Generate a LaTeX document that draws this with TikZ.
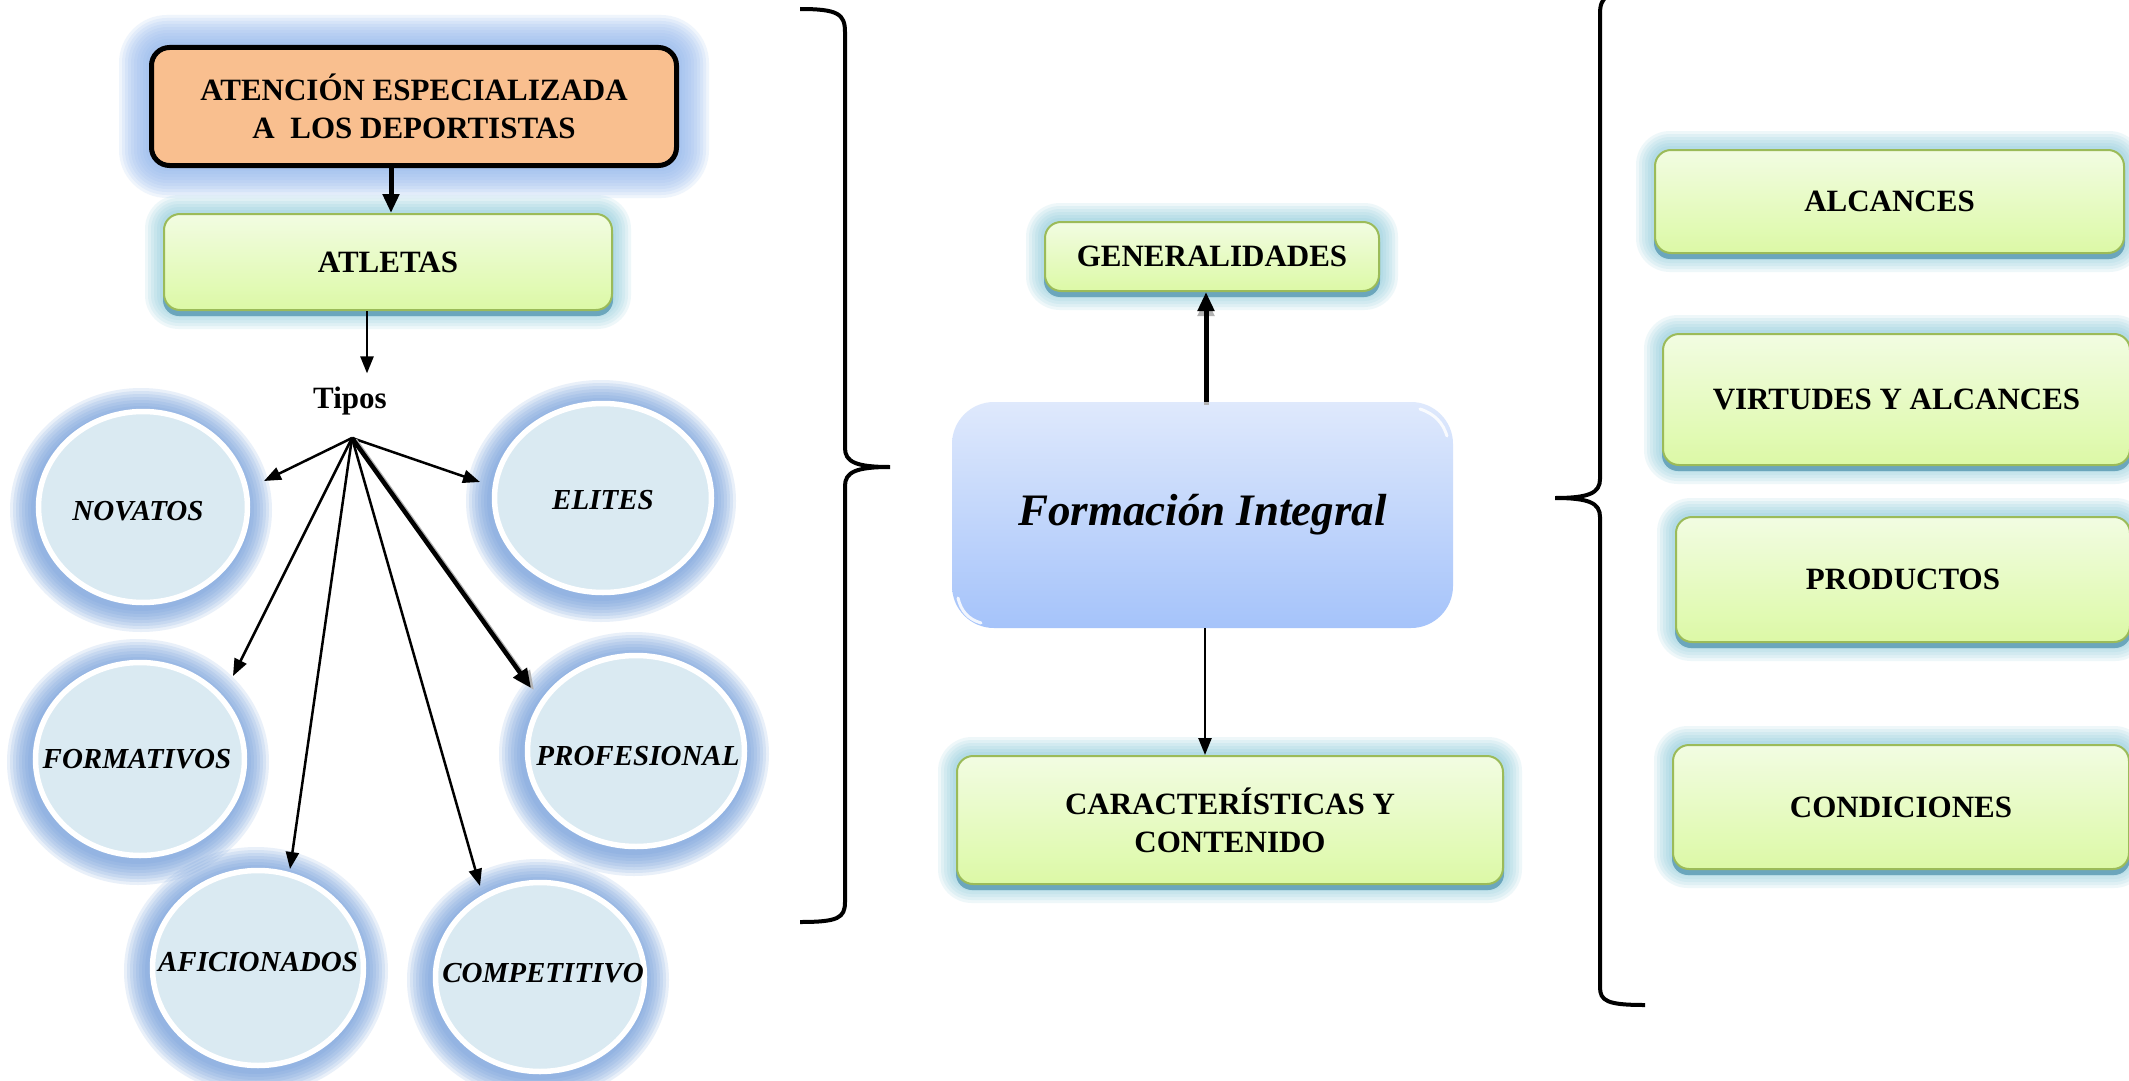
\documentclass[tikz,border=0pt]{standalone}
\usepackage{fontspec}
\setmainfont{Liberation Serif}
\usetikzlibrary{arrows.meta,shapes.geometric,calc}
\pgfdeclarelayer{background}
\pgfsetlayers{background,main}
\definecolor{orfill}{HTML}{F9BF8F}
\definecolor{orglow}{HTML}{94B9EE}
\definecolor{gglow}{HTML}{7FC4D8}
\definecolor{gborder}{HTML}{9BBB59}
\definecolor{gtop}{HTML}{F2FCE2}
\definecolor{gbot}{HTML}{DCF9A6}
\definecolor{gshadow}{HTML}{6BA6BC}
\definecolor{cfill}{HTML}{DAEAF2}
\definecolor{cglow}{HTML}{6F9BDA}
\definecolor{ftop}{HTML}{DFE9FC}
\definecolor{fbot}{HTML}{A5C3FA}
\newcommand\boxglow[5]{% node, colour, layers, corner, opacity
  \foreach \k in {1,...,#3}{
    \pgfmathsetmacro\dd{3*\k}
    \pgfmathsetmacro\rr{#4+3*\k}
    \fill[#2, opacity=#5, rounded corners=\rr pt]
      ($(#1.north west)+(-\dd,-\dd)$) rectangle ($(#1.south east)+(\dd,\dd)$);
  }
}
\newcommand\gshade[1]{%
  \fill[gshadow, rounded corners=16pt]
    ($(#1.north west)+(0,5)$) rectangle ($(#1.south east)+(0,5)$);
}
\newcommand\ellglow[4]{% node, rx, ry, layers
  \foreach \k in {1,...,#4}{
    \pgfmathsetmacro\ax{#2+3*\k}
    \pgfmathsetmacro\ay{#3+3*\k}
    \fill[cglow, opacity=0.15] ($(#1.center)+(-2,3)$) ellipse [x radius=\ax, y radius=\ay];
  }
}
\begin{document}
\begin{tikzpicture}[x=1pt,y=-1pt,
  txt/.style={font=\fontsize{31}{38}\selectfont\bfseries, align=center},
  orangebox/.style={txt, draw=black, line width=5pt, fill=orfill, rounded corners=18pt, inner sep=0pt},
  greenbox/.style={txt, draw=gborder, line width=2pt, top color=gtop, bottom color=gbot, rounded corners=16pt, inner sep=0pt},
  circ/.style={ellipse, draw=white, line width=5.5pt, fill=cfill, inner sep=0pt},
  ctxt/.style={font=\fontsize{29}{34}\selectfont\bfseries\itshape},
  arr/.style={-{Triangle[length=17pt,width=13pt]}, line width=2.5pt},
  thickarr/.style={-{Triangle[length=19pt,width=16pt]}, line width=5pt},
  bracestyle/.style={line width=4pt}
]
\useasboundingbox (0,0) rectangle (2129,1081);

% boxes
\node[orangebox, minimum width=525pt, minimum height=118pt] (ate) at (414,106.5) {ATENCIÓN ESPECIALIZADA\\A\ \ LOS DEPORTISTAS};
\node[greenbox, minimum width=448pt, minimum height=96pt] (atl) at (388,262) {ATLETAS};
\node[txt] (tipos) at (350,401) {Tipos};
\node[greenbox, minimum width=334pt, minimum height=69pt] (gen) at (1212,256.5) {GENERALIDADES};
\node[txt, font=\fontsize{45}{50}\selectfont\bfseries\itshape, top color=ftop, bottom color=fbot, rounded corners=42pt, minimum width=501pt, minimum height=226pt, inner sep=0pt] (fi) at (1202.5,515) {Formación Integral};
\node[greenbox, minimum width=546pt, minimum height=128pt] (car) at (1230,820) {CARACTERÍSTICAS Y\\CONTENIDO};
\node[greenbox, minimum width=469pt, minimum height=103pt] (alc) at (1889.5,201.5) {ALCANCES};
\node[greenbox, minimum width=467pt, minimum height=131pt] (vir) at (1896.5,399.5) {VIRTUDES Y ALCANCES};
\node[greenbox, minimum width=454pt, minimum height=125pt] (pro) at (1903,579.5) {PRODUCTOS};
\node[greenbox, minimum width=456pt, minimum height=124pt] (con) at (1901,807) {CONDICIONES};

% circles
\node[circ, minimum width=209pt, minimum height=191pt, label={[ctxt, xshift=-5pt, yshift=-4pt]center:NOVATOS}] (nov) at (143,507) {};
\node[circ, minimum width=217pt, minimum height=189pt, label={[ctxt, yshift=-2pt]center:ELITES}] (eli) at (603,498) {};
\node[circ, minimum width=209pt, minimum height=193pt, label={[ctxt, xshift=-3pt]center:FORMATIVOS}] (for) at (140,759) {};
\node[circ, minimum width=217pt, minimum height=191pt, label={[ctxt, xshift=2pt, yshift=-5pt]center:PROFESIONAL}] (prf) at (636,751) {};
\node[circ, minimum width=211pt, minimum height=195pt, label={[ctxt, yshift=6pt]center:AFICIONADOS}] (afi) at (258,968) {};
\node[circ, minimum width=209pt, minimum height=189pt, label={[ctxt, xshift=3pt, yshift=4pt]center:COMPETITIVO}] (com) at (540,977) {};

% glows
\begin{pgfonlayer}{background}
  \fill[white] (0,0) rectangle (2129,1081);
  \boxglow{ate}{orglow}{10}{18}{0.14}
  \foreach \b in {atl,gen,car,alc,vir,pro,con}{\boxglow{\b}{gglow}{6}{16}{0.13}\gshade{\b}}
  \ellglow{nov}{107}{98}{8}
  \ellglow{eli}{111}{97}{8}
  \ellglow{for}{107}{99}{8}
  \ellglow{prf}{111}{98}{8}
  \ellglow{afi}{108}{100}{8}
  \ellglow{com}{107}{97}{8}
\end{pgfonlayer}

% highlights on Formacion box
\draw[white, line width=3pt, opacity=0.85, line cap=round] (1420,409) .. controls (1435,414) and (1443,423) .. (1447,436);
\draw[white, line width=3pt, opacity=0.85, line cap=round] (958,598) .. controls (961,611) and (968,619) .. (981,623);

% connectors
\draw[thickarr] ([xshift=-23pt]ate.south) -- ([xshift=3pt]atl.north);
\draw[arr] ([xshift=-21pt]atl.south) -- ([xshift=17pt,yshift=10pt]tipos.north);
\coordinate (hub) at (352,438);
\coordinate (novT) at (264,481);
\coordinate (eliT) at (480,482);
\coordinate (forT) at (233,676);
\coordinate (afiT) at (290,869);
\coordinate (comT) at (480,886);
\coordinate (prfT) at (531,688);
\draw[arr] (hub) -- (novT);
\draw[arr] (hub) -- (eliT);
\draw[arr] (hub) -- (forT);
\draw[arr] (hub) -- (afiT);
\draw[arr] (hub) -- (comT);
\draw[thickarr, gray!60, line width=4.5pt] ($(hub)+(3,2)$) -- ($(prfT)+(3,2)$);
\draw[thickarr, line width=4.5pt] (hub) -- (prfT);
\draw[thickarr, gray!60] ([xshift=3.5pt]fi.north) ++(0,3) -- ([xshift=-6pt,yshift=-5pt]gen.south);
\draw[thickarr] ([xshift=3.5pt]fi.north) -- ([xshift=-6pt]gen.south);
\draw[arr] ([xshift=2.5pt]fi.south) -- ([xshift=-25pt]car.north);

% braces
\draw[bracestyle] (800,9) .. controls (838,9) and (845,14) .. (845,32) -- (845,448)
  .. controls (845,462) and (856,467) .. (890,467)
  .. controls (856,467) and (845,472) .. (845,486) -- (845,902)
  .. controls (845,918) and (838,922) .. (800,922);
\draw[bracestyle] (1645,-9) .. controls (1607,-9) and (1600,-4) .. (1600,14) -- (1600,479)
  .. controls (1600,493) and (1589,498) .. (1555,498)
  .. controls (1589,498) and (1600,503) .. (1600,517) -- (1600,987)
  .. controls (1600,1001) and (1607,1005) .. (1645,1005);
\end{tikzpicture}
\end{document}
